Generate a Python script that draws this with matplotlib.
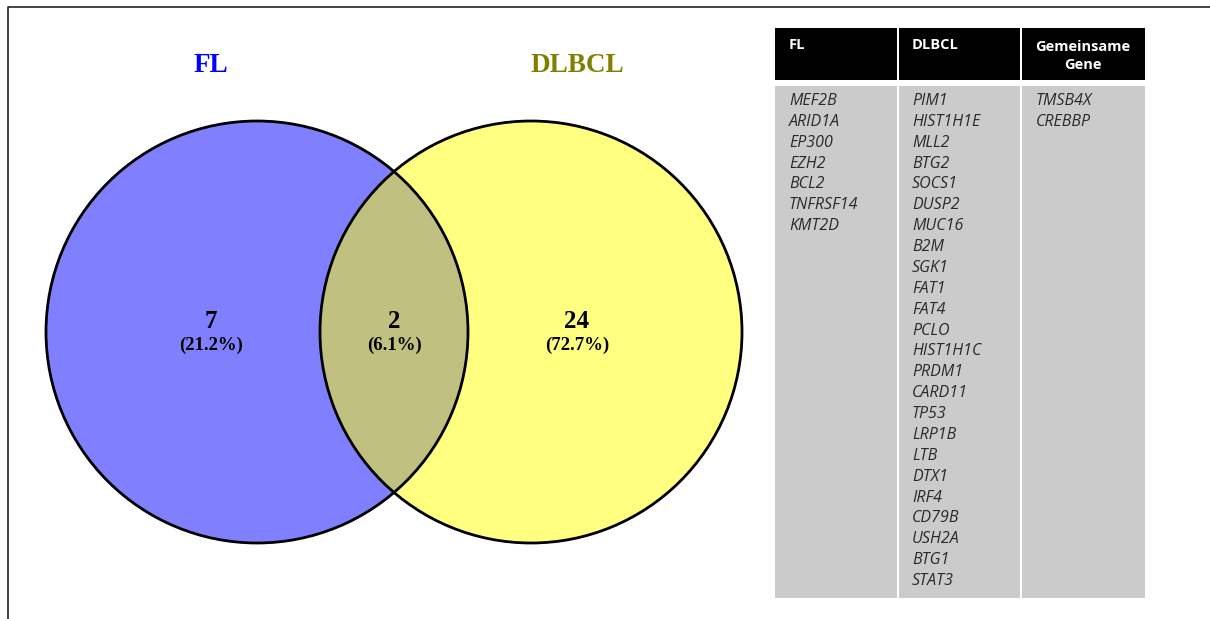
import matplotlib.pyplot as plt
from matplotlib.patches import Circle, Rectangle

# Venn counts
set_names = ['FL', 'DLBCL']
only_fl = 7
shared = 2
only_dlbcl = 24

# table contents
table_headers = ['FL', 'DLBCL', 'Gemeinsame\nGene']
fl_genes = ['MEF2B', 'ARID1A', 'EP300', 'EZH2', 'BCL2', 'TNFRSF14', 'KMT2D']
dlbcl_genes = ['PIM1', 'HIST1H1E', 'MLL2', 'BTG2', 'SOCS1', 'DUSP2', 'MUC16', 'B2M',
               'SGK1', 'FAT1', 'FAT4', 'PCLO', 'HIST1H1C', 'PRDM1', 'CARD11', 'TP53',
               'LRP1B', 'LTB', 'DTX1', 'IRF4', 'CD79B', 'USH2A', 'BTG1', 'STAT3']
shared_genes = ['TMSB4X', 'CREBBP']

total = only_fl + shared + only_dlbcl

fig = plt.figure(figsize=(12.1, 6.19), dpi=100)
ax = fig.add_axes([0, 0, 1, 1])
ax.set_xlim(0, 1210)
ax.set_ylim(619, 0)
ax.axis('off')

# frame (left and top only)
ax.plot([8, 8, 1210], [619, 7, 7], color='#222222', lw=1.2)

# Venn circles
r = 211
cx = [257, 531]
cy = 332
ax.add_patch(Circle((cx[0], cy), r, facecolor='#8080ff', edgecolor='none'))
ax.add_patch(Circle((cx[1], cy), r, facecolor='#ffff80', edgecolor='none'))
# overlap: second circle clipped to the first
lens = Circle((cx[1], cy), r, facecolor='#c0c080', edgecolor='none')
ax.add_patch(lens)
clip = Circle((cx[0], cy), r, transform=ax.transData)
lens.set_clip_path(clip)
for x in cx:
    ax.add_patch(Circle((x, cy), r, facecolor='none', edgecolor='black', lw=2))

serif = 'Liberation Serif'
ax.text(211, 65, set_names[0], color='#0000ff', fontsize=19.5, fontweight='bold',
        family=serif, ha='center', va='center')
ax.text(577, 65, set_names[1], color='#808000', fontsize=19.5, fontweight='bold',
        family=serif, ha='center', va='center')

region_x = [211, 394, 577]
for x, n in zip(region_x, [only_fl, shared, only_dlbcl]):
    ax.text(x, 322, str(n), fontsize=18, fontweight='bold', family=serif,
            ha='center', va='center')
    ax.text(x, 345, f'({100 * n / total:.1f}%)', fontsize=13.5, fontweight='bold',
            family=serif, ha='center', va='center')

# gene table
col_left = [775, 899, 1022]
col_right = [897, 1020, 1145]
sans = 'Open Sans'
for l, rgt in zip(col_left, col_right):
    ax.add_patch(Rectangle((l, 28), rgt - l, 52, facecolor='black', edgecolor='none'))
    ax.add_patch(Rectangle((l, 86), rgt - l, 512, facecolor='#cbcbcb', edgecolor='none'))

ax.text(789, 45, table_headers[0], color='white', fontsize=10.5, fontweight='bold',
        family=sans, ha='left', va='center')
ax.text(912, 45, table_headers[1], color='white', fontsize=10.5, fontweight='bold',
        family=sans, ha='left', va='center')
ax.text(1083, 56, table_headers[2], color='white', fontsize=10.5, fontweight='bold',
        family=sans, ha='center', va='center', linespacing=1.3)

line_h = 20.87
for x, genes in zip([789, 912, 1036], [fl_genes, dlbcl_genes, shared_genes]):
    for j, g in enumerate(genes):
        ax.text(x, 101 + j * line_h, g, color='#2a2a2a', fontsize=11.5,
                style='italic', family=sans, ha='left', va='center')

fig.savefig('out.png', dpi=100, facecolor='white')
